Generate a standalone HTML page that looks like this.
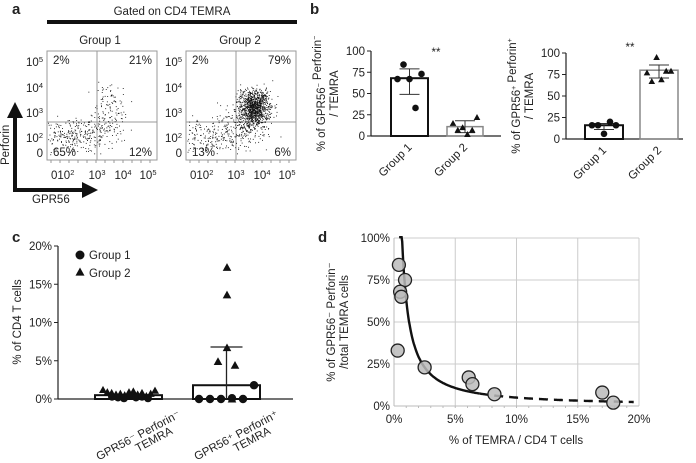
<!DOCTYPE html>
<html><head><meta charset="utf-8">
<style>
html,body{margin:0;padding:0;background:#fff;}
svg{display:block;font-family:"Liberation Sans",Arial,sans-serif;fill:#222;}
text{font-size:11.5px;}
.pl{font-size:15px;font-weight:bold;}
</style></head>
<body>
<svg id="fig" width="696" height="463" viewBox="0 0 696 463" xmlns="http://www.w3.org/2000/svg">
<defs>
<marker id="ah" viewBox="0 0 10 10" refX="5" refY="5" markerWidth="4" markerHeight="4" orient="auto"><path d="M0,0L10,5L0,10z" fill="#111"/></marker>
</defs>
<g id="panelA">
<text class="pl" x="12" y="14">a</text>
<text x="172" y="15" text-anchor="middle">Gated on CD4 TEMRA</text>
<rect x="47" y="20" width="250" height="4" fill="#111"/>
<text x="100" y="44" text-anchor="middle">Group 1</text>
<text x="240" y="44" text-anchor="middle">Group 2</text>
<line x1="15" y1="190" x2="15" y2="110" stroke="#111" stroke-width="4" marker-end="url(#ah)"/>
<line x1="13" y1="190" x2="90" y2="190" stroke="#111" stroke-width="4" marker-end="url(#ah)"/>
<text transform="translate(9,165) rotate(-90)" text-anchor="start">Perforin</text>
<text x="32" y="203">GPR56</text>
</g>
<g id="panelB">
<text class="pl" x="310" y="14">b</text>
</g>
<g id="panelC">
<text class="pl" x="12" y="242">c</text>
</g>
<g id="panelD">
<text class="pl" x="318" y="242">d</text>
</g>
</svg>
<script>
// ---------- data ----------
const flowQuadrants1 = ["2%","21%","65%","12%"];
const flowQuadrants2 = ["2%","79%","13%","6%"];
const flowTicks = ["10^5","10^4","10^3","10^2","0"];
const bCategories = ["Group 1","Group 2"];
const bLeftMeans = [68, 11];
const bLeftErrLo = [49, 4];
const bLeftErrHi = [79, 18];
const bLeftG1 = [67, 84, 67, 33, 73];
const bLeftG2 = [15, 7, 10, 2, 7, 22];
const bRightMeans = [16, 80];
const bRightErrLo = [11, 71];
const bRightErrHi = [18, 86];
const bRightG1 = [16, 16, 6, 20, 16];
const bRightG2 = [77, 67, 95, 69, 79, 79];
const bTicks = [0, 25, 50, 75, 100];
const cCategories = ["GPR56⁻ Perforin⁻ TEMRA","GPR56⁺ Perforin⁺ TEMRA"];
const cMeans = [0.5, 1.8];
const cErrHi = [0.6, 6.8];
const cG1neg = [0.3,0.2,0.1,0.4,0.2,0.3,0.1];
const cG2neg = [1.2,0.9,0.8,0.6,0.7,0.5,0.9,1.0,0.6,0.8,0.4,0.7,1.1];
const cG1pos = [0, 0, 0, 0, 0.1, 1.8];
const cG2pos = [17.2, 13.6, 6.7, 4.9, 4.4, 0];
const cTicks = [0, 5, 10, 15, 20];
const dX = [0.4, 0.9, 0.5, 0.6, 0.3, 2.5, 6.1, 6.4, 8.2, 17.0, 17.9];
const dY = [84, 75, 68, 65, 33, 23, 17, 13, 7, 8, 2];
const dFitK = [63];
const dFitB = [1.1];
const dXTicks = [0, 5, 10, 15, 20];
const dYTicks = [0, 25, 50, 75, 100];

const NS = "http://www.w3.org/2000/svg";
function mk(parent, tag, attrs, txt){
  const e = document.createElementNS(NS, tag);
  for (const k in attrs) e.setAttribute(k, attrs[k]);
  if (txt !== undefined) e.textContent = txt;
  parent.appendChild(e); return e;
}
function supText(parent, x, y, base, sup, anchor, fs){
  const t = mk(parent,'text',{x:x,y:y,'text-anchor':anchor||'start','font-size':fs||11.5});
  t.appendChild(document.createTextNode(base));
  const s = document.createElementNS(NS,'tspan'); s.setAttribute('dy','-4'); s.setAttribute('font-size','7.5'); s.textContent=sup; t.appendChild(s);
  return t;
}
function tri(parent, cx, cy, r){
  return mk(parent,'path',{d:`M${cx},${cy-r}L${cx+r},${cy+r*0.8}L${cx-r},${cy+r*0.8}Z`,fill:'#111'});
}

// ---------- panel a: flow plots ----------
const A = document.getElementById('panelA');
let seed = 12345;
function rnd(){ seed = (seed*1103515245+12345) % 2147483648; return seed/2147483648; }
function gauss(){ return (rnd()+rnd()+rnd()+rnd()-2)*1.7; }
function flowPlot(x0, quads, clusters){
  const g = mk(A,'g',{});
  
  
  const box = mk(g,'rect',{x:x0,y:51,width:110,height:109,fill:'none',stroke:'#999','stroke-width':1});
  
  
  mk(g,'line',{x1:x0+50,y1:51,x2:x0+50,y2:160,stroke:'#999'});
  mk(g,'line',{x1:x0,y1:122,x2:x0+110,y2:122,stroke:'#999'});
  clusters.forEach(c=>{
    for(let i=0;i<c.n;i++){
      const px = x0 + c.cx + gauss()*c.sx, py = c.cy + gauss()*c.sy;
      if(px>x0+1&&px<x0+109&&py>52&&py<159) mk(g,'rect',{x:px.toFixed(1),y:py.toFixed(1),width:0.9,height:0.9,fill:'#111'});
    }
  });
  mk(g,'text',{x:x0+6,y:64},quads[0]);
  mk(g,'text',{x:x0+105,y:64,'text-anchor':'end'},quads[1]);
  mk(g,'text',{x:x0+6,y:156},quads[2]);
  mk(g,'text',{x:x0+105,y:156,'text-anchor':'end'},quads[3]);
  const ty=[62,88,113,138,153];
  flowTicks.forEach((t,i)=>{
    if(t==="0") mk(g,'text',{x:x0-4,y:ty[i]+4,'text-anchor':'end'},'0');
    else supText(g,x0-4,ty[i]+4,'10',t.slice(3),'end');
  });
  supText(g,x0+4,179,'010','2','start');
  supText(g,x0+50,179,'10','3','middle');
  supText(g,x0+76,179,'10','4','middle');
  supText(g,x0+101,179,'10','5','middle');
  for(let i=0;i<12;i++) mk(g,'line',{x1:x0+4+i*9,y1:160,x2:x0+4+i*9,y2:163,stroke:'#999'});
}
flowPlot(47, flowQuadrants1, [{cx:32,cy:134,sx:20,sy:8,n:300},{cx:62,cy:108,sx:9,sy:14,n:120}]);
flowPlot(186, flowQuadrants2, [{cx:28,cy:136,sx:22,sy:9,n:230},{cx:68,cy:107,sx:8,sy:9,n:1000},{cx:58,cy:124,sx:14,sy:10,n:220}]);

// ---------- panel b ----------
const B = document.getElementById('panelB');
function barPanel(ax, y0, y100, xEnd, bars, means, lo, hi, g1, g2, stars, lblLines){
  const g = mk(B,'g',{});
  
  
  const ys = v => y0 - (v/100)*(y0-y100);
  mk(g,'line',{x1:ax,y1:y100,x2:ax,y2:y0,stroke:'#222','stroke-width':1.2});
  mk(g,'line',{x1:ax,y1:y0,x2:xEnd,y2:y0,stroke:'#222','stroke-width':1.2});
  bTicks.forEach(t=>{
    mk(g,'line',{x1:ax-4,y1:ys(t),x2:ax,y2:ys(t),stroke:'#222'});
    const tl = mk(g,'text',{x:ax-6,y:ys(t)+4,'text-anchor':'end'},String(t));
    
    
  });
  means.forEach((m,i)=>{
    const [bx0,bx1] = bars[i]; const cx=(bx0+bx1)/2;
    const r = mk(g,'rect',{x:bx0,y:ys(m),width:bx1-bx0,height:y0-ys(m),fill:'none',stroke:i===0?'#111':'#888','stroke-width':i===0?2:1.5});
    
    
    mk(g,'line',{x1:cx,y1:ys(lo[i]),x2:cx,y2:ys(hi[i]),stroke:'#333'});
    mk(g,'line',{x1:cx-10,y1:ys(lo[i]),x2:cx+10,y2:ys(lo[i]),stroke:'#333'});
    mk(g,'line',{x1:cx-10,y1:ys(hi[i]),x2:cx+10,y2:ys(hi[i]),stroke:'#333'});
    const lab = mk(g,'text',{transform:`translate(${cx+3},${y0+12}) rotate(-45)`,'text-anchor':'end'},bCategories[i]);
    
    
    const pts = i===0?g1:g2;
    pts.forEach((v,j)=>{
      const px = cx - 12 + (j/(pts.length-1))*24;
      if(i===0) mk(g,'circle',{cx:px,cy:ys(v),r:3.3,fill:'#111'});
      else tri(g,px,ys(v),3.3);
    });
  });
  mk(g,'text',{x:stars[0],y:stars[1],'text-anchor':'middle'},'**');
  const yl = mk(g,'text',{transform:`translate(${lblLines[0]},${(y0+y100)/2}) rotate(-90)`,'text-anchor':'middle'});
  
  
  lblLines[2].forEach((ln,k)=>{
    const ts = document.createElementNS(NS,'tspan'); ts.setAttribute('x',0); ts.setAttribute('y',k*13);
    ln.forEach(p=>{ if(p.sup){const s=document.createElementNS(NS,'tspan');s.setAttribute('dy','-4');s.setAttribute('font-size','7');s.textContent=p.t;ts.appendChild(s);const b=document.createElementNS(NS,'tspan');b.setAttribute('dy','4');b.textContent='';ts.appendChild(b);} else ts.appendChild(document.createTextNode(p.t)); });
    yl.appendChild(ts);
  });
}
barPanel(371,136,51,501,[[391,428],[447,483]],bLeftMeans,bLeftErrLo,bLeftErrHi,bLeftG1,bLeftG2,[436,56],
  [325,0,[[{t:'% of GPR56'},{t:'−',sup:1},{t:' Perforin'},{t:'−',sup:1}],[{t:'/ TEMRA'}]]]);
barPanel(566,139,53,683,[[585,623],[640,678]],bRightMeans,bRightErrLo,bRightErrHi,bRightG1,bRightG2,[630,51],
  [520,0,[[{t:'% of GPR56'},{t:'+',sup:1},{t:' Perforin'},{t:'+',sup:1}],[{t:'/ TEMRA'}]]]);

// ---------- panel c ----------
const C = document.getElementById('panelC');
(function(){
  const ax=58, y0=399, y20=246, xEnd=293;
  const ys = v => y0 - (v/20)*(y0-y20);
  mk(C,'line',{x1:ax,y1:y20,x2:ax,y2:y0,stroke:'#222','stroke-width':1.2});
  mk(C,'line',{x1:ax,y1:y0,x2:xEnd,y2:y0,stroke:'#222','stroke-width':1.2});
  cTicks.forEach(t=>{
    mk(C,'line',{x1:ax-4,y1:ys(t),x2:ax,y2:ys(t),stroke:'#222'});
    const tl = mk(C,'text',{x:ax-6,y:ys(t)+4,'text-anchor':'end'},t+'%');
    
    
  });
  const yl = mk(C,'text',{transform:`translate(21,322) rotate(-90)`,'text-anchor':'middle'},'% of  CD4 T cells');
  
  
  const bars=[[95,162],[193,260]];
  cMeans.forEach((m,i)=>{
    const [b0,b1]=bars[i], cx=(b0+b1)/2;
    const r = mk(C,'rect',{x:b0,y:ys(m),width:b1-b0,height:y0-ys(m),fill:'none',stroke:'#111','stroke-width':2});
    
    
    mk(C,'line',{x1:cx,y1:y0,x2:cx,y2:ys(cErrHi[i]),stroke:'#222','stroke-width':1.3});
    mk(C,'line',{x1:cx-16,y1:ys(cErrHi[i]),x2:cx+16,y2:ys(cErrHi[i]),stroke:'#222','stroke-width':1.3});
    const parts = cCategories[i].split(' ');
    const lab = mk(C,'text',{transform:`translate(${cx+22},${y0+34}) rotate(-28)`,'text-anchor':'middle','font-size':10.5});
    
    
    const t1=document.createElementNS(NS,'tspan');t1.setAttribute('x',-12);t1.setAttribute('y',0);t1.textContent=parts[0]+' '+parts[1];lab.appendChild(t1);
    const t2=document.createElementNS(NS,'tspan');t2.setAttribute('x',0);t2.setAttribute('y',11);t2.textContent=parts[2];lab.appendChild(t2);
  });
  cG2neg.forEach((v,j)=>tri(C,103+j*(52/(cG2neg.length-1)),ys(v),4));
  cG1neg.forEach((v,j)=>mk(C,'circle',{cx:112+j*6,cy:ys(v),r:4,fill:'#111'}));
  const g1x=[199,210,221,243,232,254];
  cG1pos.forEach((v,j)=>mk(C,'circle',{cx:g1x[j],cy:ys(v),r:4.2,fill:'#111'}));
  const g2x=[227,227,227,218,235,232];
  cG2pos.forEach((v,j)=>tri(C,g2x[j],ys(v),4.3));
  const lg = mk(C,'g',{});
  
  
  mk(lg,'circle',{cx:80,cy:255,r:4.5,fill:'#111'});
  mk(lg,'text',{x:89,y:259},'Group 1');
  tri(lg,80,272,4.5);
  mk(lg,'text',{x:89,y:277},'Group 2');
})();

// ---------- panel d ----------
const D = document.getElementById('panelD');
(function(){
  const x0=394,x1=639,y0=406,y1=238;
  const xs=v=>x0+(v/20)*(x1-x0), ys=v=>y0-(v/100)*(y0-y1);
  dXTicks.forEach(t=>{
    if(t>0) mk(D,'line',{x1:xs(t),y1:y1,x2:xs(t),y2:y0,stroke:'#ccc'});
    const tl = mk(D,'text',{x:xs(t),y:y0+17,'text-anchor':'middle'},t+'%');
    
    
  });
  dYTicks.forEach(t=>{
    if(t>0) mk(D,'line',{x1:x0,y1:ys(t),x2:x1,y2:ys(t),stroke:'#ccc'});
    const tl = mk(D,'text',{x:x0-4,y:ys(t)+4,'text-anchor':'end'},t+'%');
    
    
  });
  mk(D,'line',{x1:x0,y1:y0,x2:x1,y2:y0,stroke:'#bbb'});
  mk(D,'line',{x1:x0,y1:y1,x2:x0,y2:y0,stroke:'#bbb'});
  for(let i=1;i<20;i++) mk(D,'line',{x1:xs(i),y1:y0,x2:xs(i),y2:y0+2,stroke:'#bbb'});
  const k=dFitK[0], b=dFitB[0];
  let solid='', dash='';
  for(let v=0.42; v<=19.6; v+=0.05){
    const y=Math.min(k*Math.pow(v,-b),100.5);
    const p=`${xs(v).toFixed(1)},${ys(y).toFixed(1)} `;
    if(v<=7) solid+=p; if(v>=6.95) dash+=p;
  }
  const fs = mk(D,'polyline',{points:solid,fill:'none',stroke:'#111','stroke-width':2.4});
  
  
  const fd = mk(D,'polyline',{points:dash,fill:'none',stroke:'#111','stroke-width':2.4,'stroke-dasharray':'9,6'});
  
  
  dX.forEach((v,i)=>{
    const c = mk(D,'circle',{cx:xs(v),cy:ys(dY[i]),r:6.5,fill:'#bbb','fill-opacity':0.85,stroke:'#222','stroke-width':1.3});
    
    
  });
  const xl = mk(D,'text',{x:516,y:444,'text-anchor':'middle'},'% of TEMRA / CD4 T cells');
  
  
  const yl = mk(D,'text',{transform:`translate(335,322) rotate(-90)`,'text-anchor':'middle'});
  
  
  const a1=document.createElementNS(NS,'tspan');a1.setAttribute('x',0);a1.setAttribute('y',0);a1.textContent='% of GPR56⁻ Perforin⁻';yl.appendChild(a1);
  const a2=document.createElementNS(NS,'tspan');a2.setAttribute('x',0);a2.setAttribute('y',13);a2.textContent='/total TEMRA cells';yl.appendChild(a2);
})();
</script>
</body></html>
